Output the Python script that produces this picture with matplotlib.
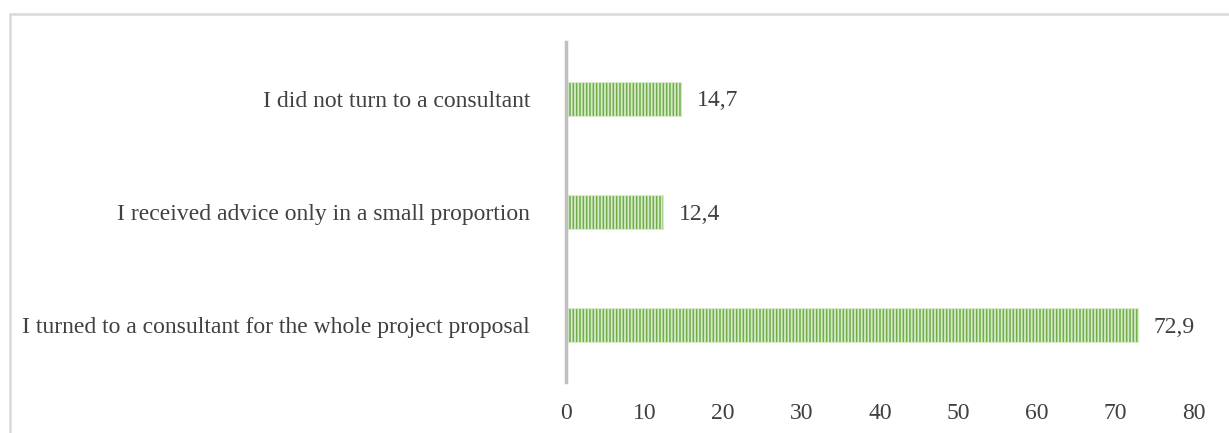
import matplotlib.pyplot as plt
from matplotlib.patches import Rectangle

# Consultant usage (%)
categories = ["I turned to a consultant for the whole project proposal",
              "I received advice only in a small proportion",
              "I did not turn to a consultant"]
values = [72.9, 12.4, 14.7]
value_labels = ["72,9", "12,4", "14,7"]
xticks = [0, 10, 20, 30, 40, 50, 60, 70, 80]

plt.rcParams['font.family'] = ['Liberation Serif', 'DejaVu Serif']
plt.rcParams['hatch.linewidth'] = 1.3

fig = plt.figure(figsize=(12.29, 4.33), dpi=100)
ax = fig.add_axes([566 / 1229, 1 - 382 / 433, 628 / 1229, 340 / 433])

# outer frame like the source chart area
fig.patches.append(Rectangle((10 / 1229, -0.1), 1.2, 1 - 14 / 433 + 0.1,
                             transform=fig.transFigure, fill=False,
                             edgecolor='#d9d9d9', linewidth=1.8))

y = range(len(categories))
ax.barh(y, values, height=0.3, color='#70ad47', edgecolor='#d6ebc9',
        linewidth=0.8, hatch='|||||')

for i, v in enumerate(values):
    ax.text(v + 2, i - 0.02, value_labels[i], va='center', ha='left',
            fontsize=17, color='#404040')

ax.set_xlim(0, 80)
ax.set_ylim(-0.5, 2.5)
ax.set_xticks(xticks)
ax.set_yticks(list(y))
ax.set_yticklabels(categories)
ax.tick_params(axis='both', length=0, labelsize=17, colors='#404040')
ax.tick_params(axis='y', pad=26)
ax.tick_params(axis='x', pad=15)

for s in ['top', 'right', 'bottom']:
    ax.spines[s].set_visible(False)
ax.spines['left'].set_color('#bfbfbf')
ax.spines['left'].set_linewidth(2.5)

fig.savefig('out.png', dpi=100)
